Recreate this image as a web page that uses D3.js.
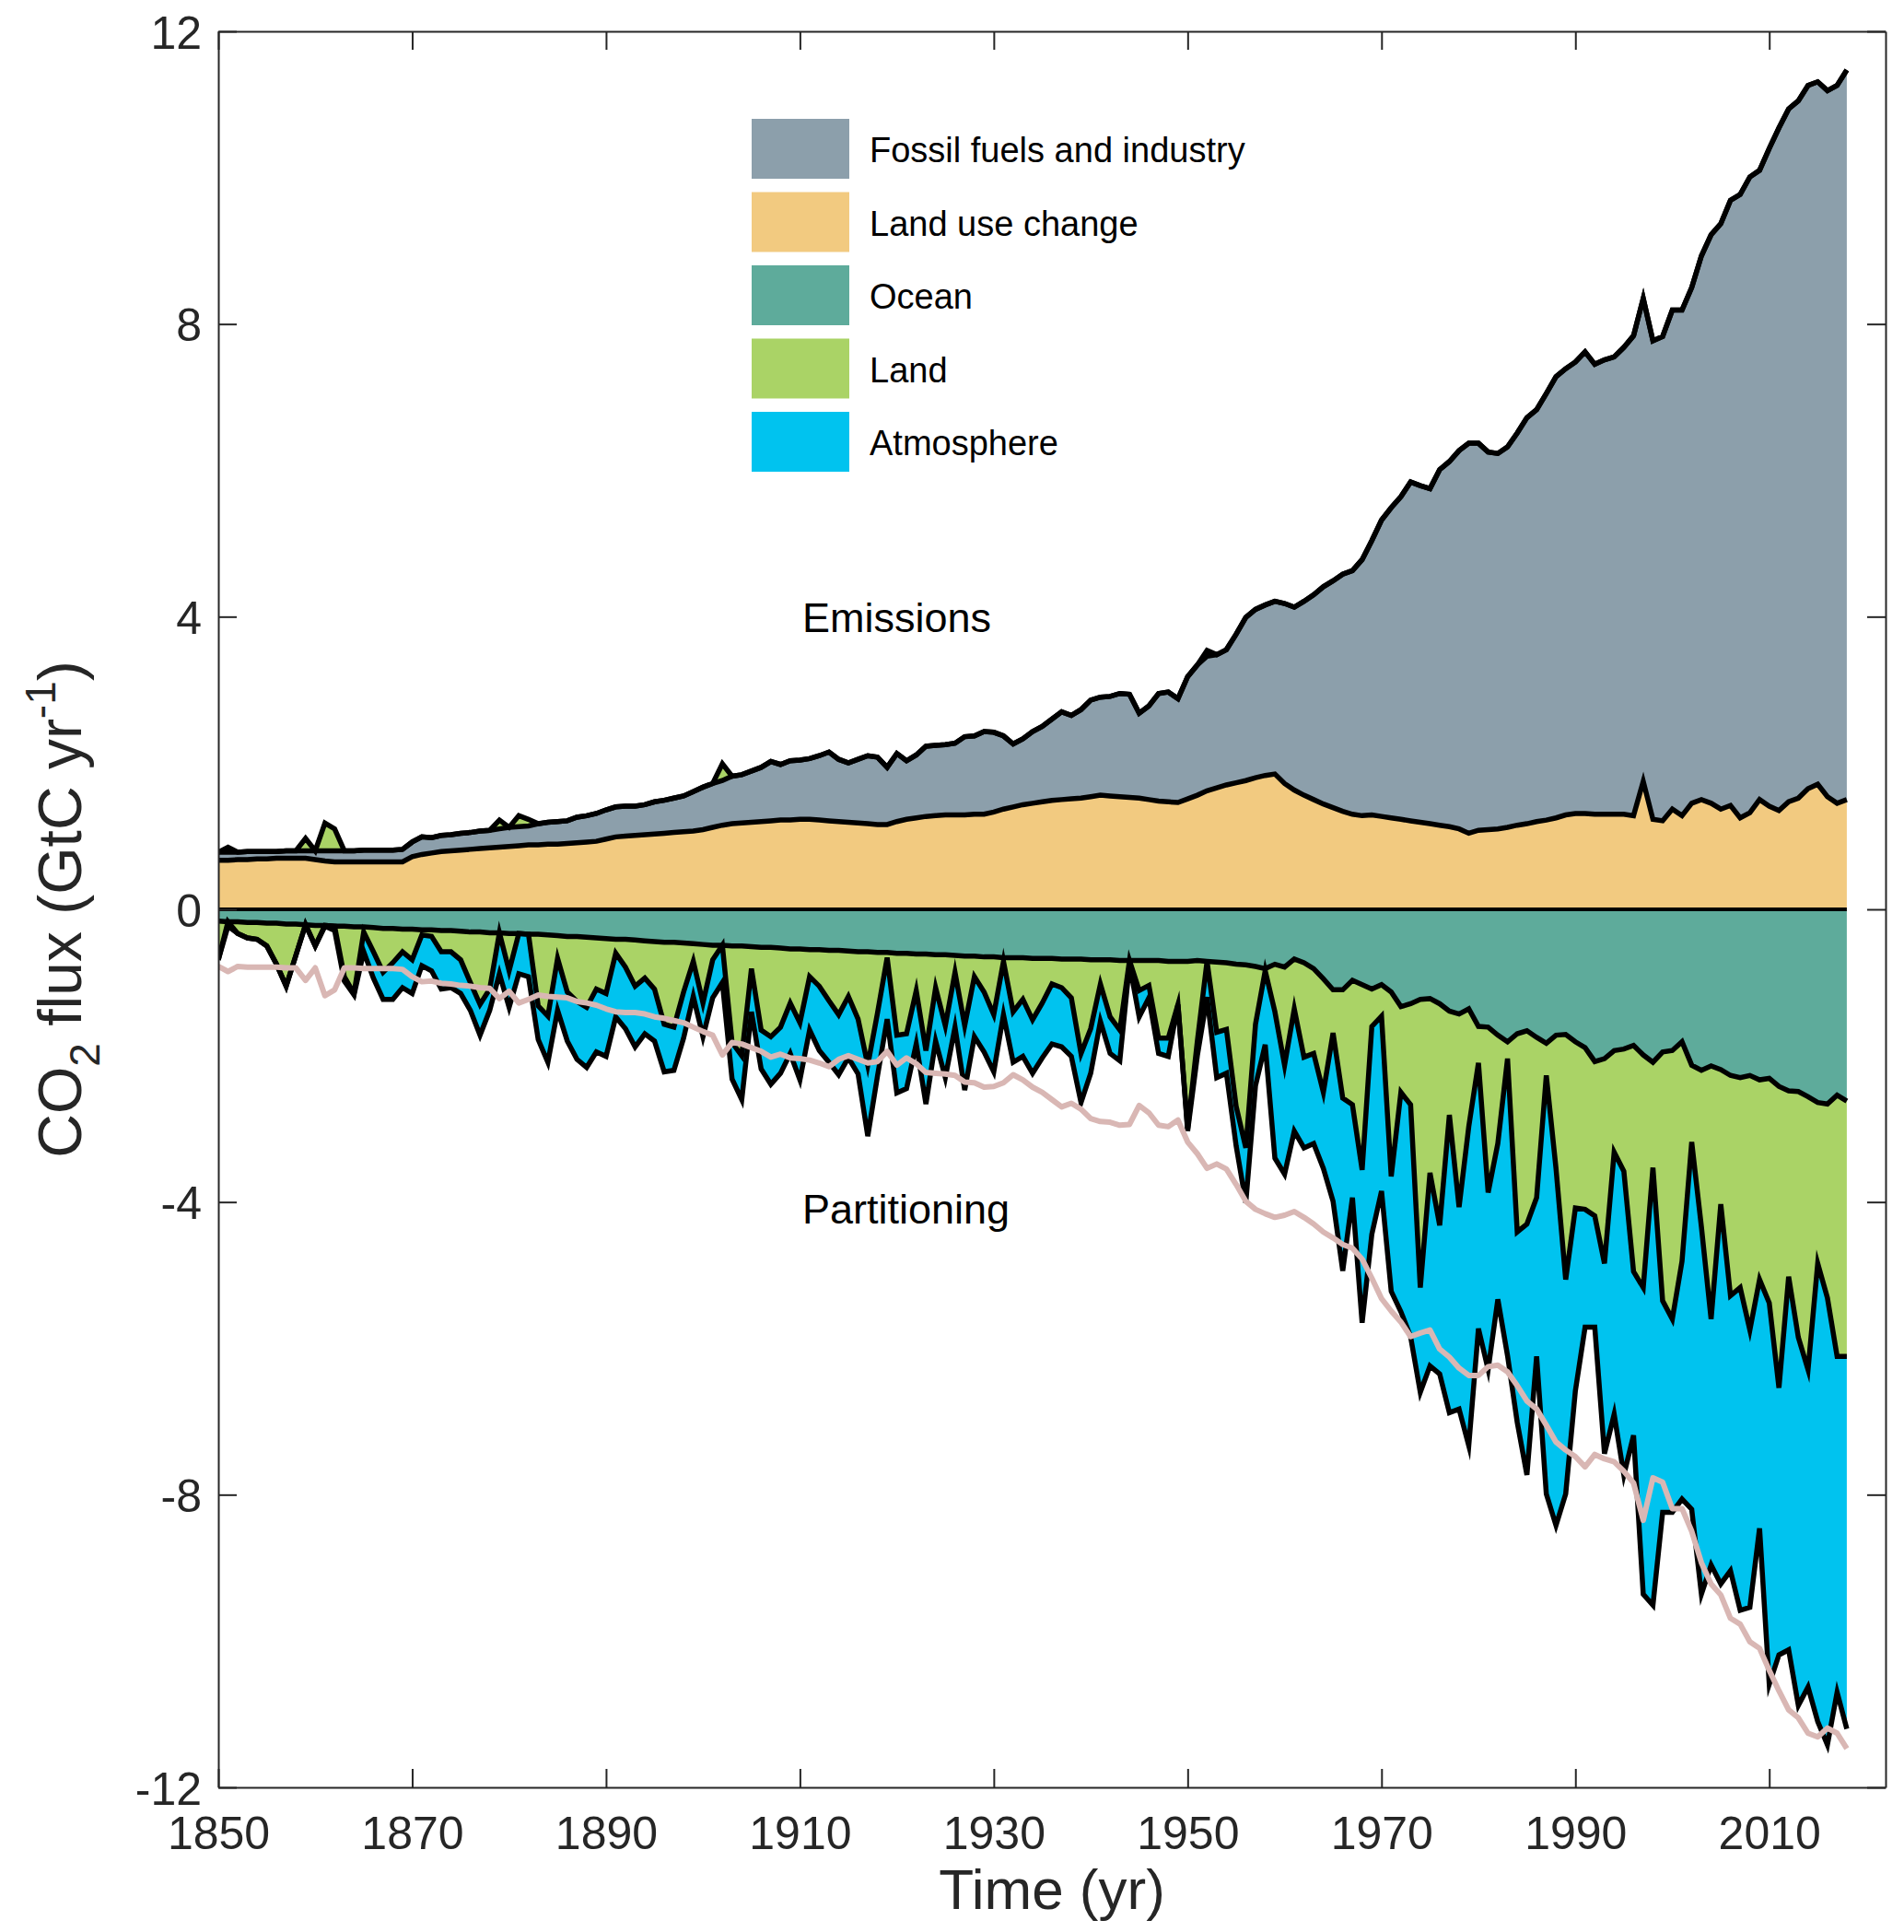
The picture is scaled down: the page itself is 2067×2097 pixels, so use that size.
<!DOCTYPE html>
<html>
<head>
<meta charset="utf-8">
<script src="https://cdn.jsdelivr.net/npm/d3@7"></script>
<style>
  body { margin: 0; background: #fff; }
  text { font-family: Arial, "Liberation Sans", Helvetica, sans-serif; }
</style>
</head>
<body>
<svg id="chart" width="2067" height="2097"></svg>
<script>
const years = d3.range(1850, 2019);

// GtC per year
const fossil = [
  .11,.11,.10,.11,.10,.10,.09,.10,.10,.10,
  .12,.14,.15,.15,.15,.16,.16,.16,.16,.17,
  .20,.24,.21,.22,.22,.23,.23,.24,.24,.25,
  .26,.26,.26,.29,.30,.31,.31,.35,.36,.38,
  .40,.41,.41,.40,.41,.44,.45,.47,.49,.54,
  .58,.60,.61,.65,.66,.70,.74,.81,.76,.81,
  .81,.83,.88,.94,.85,.81,.87,.93,.92,.78,
  .93,.80,.86,.96,.96,.96,.98,1.07,1.07,1.13,
  1.09,1.00,.86,.90,.98,1.03,1.11,1.20,1.14,1.21,
  1.32,1.34,1.36,1.41,1.41,1.16,1.28,1.47,1.50,1.42,
  1.67,1.78,1.84,1.82,1.85,2.03,2.23,2.30,2.33,2.36,
  2.46,2.50,2.65,2.80,2.97,3.10,3.24,3.33,3.50,3.75,
  4.05,4.24,4.41,4.63,4.60,4.58,4.86,4.99,5.17,5.33,
  5.29,5.16,5.13,5.20,5.36,5.55,5.63,5.83,6.03,6.10,
  6.17,6.31,6.15,6.21,6.25,6.38,6.56,6.60,6.54,6.62,
  6.82,6.91,7.05,7.43,7.77,8.00,8.27,8.52,8.69,8.60,
  8.99,9.33,9.47,9.53,9.61,9.60,9.65,9.81,9.97
];

const landUse = [
  .67,.67,.68,.68,.69,.69,.70,.70,.70,.70,
  .68,.66,.65,.65,.65,.65,.65,.65,.65,.65,
  .72,.75,.77,.79,.80,.81,.82,.83,.84,.85,
  .86,.87,.88,.88,.89,.89,.90,.91,.92,.93,
  .96,.99,1.00,1.01,1.02,1.03,1.04,1.05,1.06,1.07,
  1.09,1.12,1.15,1.17,1.18,1.19,1.20,1.21,1.22,1.22,
  1.23,1.23,1.22,1.21,1.20,1.19,1.18,1.17,1.16,1.16,
  1.20,1.23,1.25,1.27,1.28,1.29,1.29,1.29,1.30,1.30,
  1.33,1.37,1.40,1.43,1.45,1.47,1.49,1.50,1.51,1.52,
  1.54,1.56,1.55,1.54,1.53,1.52,1.50,1.48,1.47,1.46,
  1.51,1.56,1.62,1.66,1.70,1.73,1.76,1.80,1.83,1.85,
  1.72,1.63,1.56,1.50,1.44,1.39,1.34,1.30,1.28,1.29,
  1.27,1.25,1.23,1.21,1.19,1.17,1.15,1.13,1.10,1.04,
  1.08,1.09,1.10,1.12,1.15,1.17,1.20,1.22,1.25,1.29,
  1.31,1.31,1.30,1.30,1.30,1.30,1.28,1.75,1.23,1.21,
  1.37,1.28,1.45,1.50,1.45,1.37,1.42,1.25,1.32,1.50,
  1.41,1.35,1.47,1.52,1.65,1.71,1.54,1.45,1.50
];

// sinks as positive numbers
const ocean = [
  .16,.17,.17,.18,.18,.19,.19,.20,.20,.21,
  .22,.22,.23,.23,.24,.24,.25,.26,.26,.27,
  .27,.28,.28,.29,.29,.30,.31,.31,.32,.32,
  .33,.33,.34,.34,.35,.36,.37,.37,.38,.39,
  .40,.41,.41,.42,.43,.44,.45,.45,.46,.47,
  .48,.49,.49,.50,.50,.51,.52,.52,.53,.54,
  .54,.55,.55,.56,.56,.57,.58,.58,.59,.59,
  .60,.60,.61,.61,.62,.62,.63,.64,.64,.65,
  .65,.66,.66,.66,.67,.67,.67,.68,.68,.68,
  .69,.69,.69,.70,.70,.70,.70,.70,.71,.71,
  .71,.70,.71,.72,.73,.75,.76,.78,.81,.75,
  .79,.68,.73,.81,.95,1.10,1.10,.97,1.03,1.09,
  1.03,1.13,1.33,1.29,1.23,1.22,1.29,1.39,1.43,1.36,
  1.60,1.61,1.72,1.81,1.70,1.66,1.75,1.83,1.72,1.71,
  1.81,1.89,2.08,2.04,1.93,1.91,1.86,1.99,2.09,1.95,
  1.93,1.81,2.13,2.20,2.14,2.19,2.27,2.30,2.27,2.33,
  2.31,2.42,2.48,2.49,2.56,2.64,2.66,2.54,2.62
];

// negative = land acts as a source (drawn on top of the emissions)
const land = [
  .53,-.07,.16,.21,.23,.31,.56,.85,.43,-.17,
  .28,-.38,-.30,.69,.91,.07,.33,.60,.47,.31,
  .42,.07,.09,.29,.29,.39,.69,.99,.77,-.12,
  .51,-.15,-.09,.98,1.11,.31,.76,.89,.96,.70,
  .75,.19,.38,.63,.51,.65,1.12,1.16,.67,.24,
  .80,.20,-.23,1.32,1.50,.30,1.13,1.22,1.08,.74,
  1.01,.37,.50,.69,.88,.62,.92,1.55,.83,.07,
  1.12,1.10,.50,1.32,.45,.97,.23,.95,.28,.48,
  .79,.05,.74,.57,.84,.61,.35,.39,.53,1.29,
  .94,.33,.78,.95,0,.41,.34,1.06,1.05,.59,
  2.29,1.10,-.08,.96,.91,1.94,2.50,.79,.03,.65,
  1.34,.68,1.29,1.16,1.55,.59,1.48,1.70,2.53,.51,
  .43,2.52,1.17,1.38,3.94,2.38,3.03,1.42,2.64,1.61,
  .50,2.26,1.48,.23,2.71,2.64,2.19,.44,1.82,3.35,
  2.27,2.21,2.11,2.80,1.39,1.67,3.09,3.18,1.44,3.40,
  3.67,3.00,1.05,2.14,3.46,1.84,3.01,2.87,3.48,2.73,
  3.07,4.12,2.54,3.36,3.73,2.20,2.65,3.57,3.49
];

const atmosphere = [
  0,.06,0,0,0,0,0,0,0,0,
  0,.01,.06,.06,.02,.27,.36,.37,.50,.49,
  .46,.42,.47,.51,.49,.46,.38,.42,.29,.56,
  .50,.55,.58,.46,.63,.71,.67,.79,.82,.86,
  .86,.87,.84,.83,.76,.71,.65,.59,.63,.48,
  .46,.52,.51,.50,.60,.59,.53,.65,.63,.69,
  .78,.73,.88,.84,.82,.84,.75,.97,.86,.84,
  .79,.75,.73,.73,.73,.71,.75,.88,.82,.82,
  .78,.73,.69,.78,.73,.75,.82,.81,.80,.67,
  .61,.51,.50,.42,.05,.36,.17,.21,.25,0,
  .03,.20,.49,.62,.60,.54,.75,.84,1.01,2.00,
  1.49,1.67,1.24,1.23,1.04,2.30,2.36,1.27,2.09,2.84,
  2.39,1.57,3.00,3.17,1.43,2.64,2.03,4.07,2.76,4.36,
  3.63,2.42,2.13,4.06,2.60,3.43,2.17,5.72,4.88,2.93,
  2.50,1.61,1.52,2.60,3.58,4.15,2.24,4.19,5.98,2.89,
  2.64,3.25,5.02,5.02,3.36,5.19,3.76,4.41,3.79,3.40,
  5.21,3.65,5.10,5.03,4.34,6.26,6.11,4.59,5.09
];

const X_TICKS = d3.range(1850, 2011, 20);
const Y_TICKS = d3.range(-12, 13, 4);
const LEGEND = [
  ["Fossil fuels and industry", "#8c9fab"],
  ["Land use change", "#f2ca80"],
  ["Ocean", "#5eab9b"],
  ["Land", "#aad366"],
  ["Atmosphere", "#00c3ef"]
];
const PINK = "#d9b7b4";
const AXIS = "#262626";

const svg = d3.select("#chart");
const x = d3.scaleLinear().domain([1850, 2022]).range([237, 2047]);
const y = d3.scaleLinear().domain([-12, 12]).range([1940, 34]);

// stacked positions for each year
const rows = years.map((yr, i) => {
  const src = Math.max(0, -land[i]);
  const sink = Math.max(0, land[i]);
  const top = landUse[i] + fossil[i];
  const oc = -ocean[i];
  const g = oc - sink;
  return { yr, luc: landUse[i], top, srcTop: top + src, oc, g, b: g - atmosphere[i] };
});

svg.append("defs").append("clipPath").attr("id", "plot")
  .append("rect")
  .attr("x", x.range()[0]).attr("y", y.range()[1])
  .attr("width", x.range()[1] - x.range()[0])
  .attr("height", y.range()[0] - y.range()[1]);

const plot = svg.append("g").attr("clip-path", "url(#plot)");

const band = (lo, hi) => d3.area().x(d => x(d.yr)).y0(d => y(lo(d))).y1(d => y(hi(d)));
const line = f => d3.line().x(d => x(d.yr)).y(d => y(f(d)));

// fills
plot.append("path").datum(rows).attr("fill", LEGEND[1][1]).attr("d", band(d => 0, d => d.luc));
plot.append("path").datum(rows).attr("fill", LEGEND[0][1]).attr("d", band(d => d.luc, d => d.top));
plot.append("path").datum(rows).attr("fill", LEGEND[3][1]).attr("d", band(d => d.top, d => d.srcTop));
plot.append("path").datum(rows).attr("fill", LEGEND[2][1]).attr("d", band(d => 0, d => d.oc));
plot.append("path").datum(rows).attr("fill", LEGEND[3][1]).attr("d", band(d => d.oc, d => d.g));
plot.append("path").datum(rows).attr("fill", LEGEND[4][1]).attr("d", band(d => d.g, d => d.b));

// outlines
const edges = [d => d.srcTop, d => d.top, d => d.luc, d => d.oc, d => d.g, d => d.b];
edges.forEach(f => {
  plot.append("path").datum(rows)
    .attr("fill", "none").attr("stroke", "#000")
    .attr("stroke-width", 5.5).attr("stroke-linejoin", "miter").attr("stroke-miterlimit", 6)
    .attr("d", line(f));
});
plot.append("path").datum(rows)
  .attr("fill", "none").attr("stroke", "#000").attr("stroke-width", 4)
  .attr("d", line(d => 0));

// mirrored total emissions
plot.append("path").datum(rows)
  .attr("fill", "none").attr("stroke", PINK).attr("stroke-width", 6)
  .attr("stroke-linejoin", "round")
  .attr("d", line(d => -d.srcTop));

// axes, MATLAB style box with inward ticks
const styleAxis = g => {
  g.select(".domain").attr("stroke", AXIS).attr("stroke-width", 2);
  g.selectAll(".tick line").attr("stroke", AXIS).attr("stroke-width", 2);
  g.selectAll(".tick text").attr("fill", AXIS).style("font-size", "50px");
};

svg.append("g").attr("transform", `translate(0,${y.range()[0]})`)
  .call(d3.axisBottom(x).tickValues(X_TICKS).tickFormat(d => String(d))
    .tickSizeInner(-20).tickSizeOuter(0).tickPadding(0))
  .call(styleAxis)
  .call(g => g.selectAll(".tick text").attr("y", 67).attr("dy", null));

svg.append("g").attr("transform", `translate(0,${y.range()[1]})`)
  .call(d3.axisTop(x).tickValues(X_TICKS).tickFormat("")
    .tickSizeInner(-20).tickSizeOuter(0))
  .call(styleAxis);

svg.append("g").attr("transform", `translate(${x.range()[0]},0)`)
  .call(d3.axisLeft(y).tickValues(Y_TICKS).tickFormat(d => String(d))
    .tickSizeInner(-20).tickSizeOuter(0).tickPadding(18))
  .call(styleAxis)
  .call(g => g.selectAll(".tick text").attr("dy", "0.36em"));

svg.append("g").attr("transform", `translate(${x.range()[1]},0)`)
  .call(d3.axisRight(y).tickValues(Y_TICKS).tickFormat("")
    .tickSizeInner(-20).tickSizeOuter(0))
  .call(styleAxis);

// axis titles
svg.append("text")
  .attr("x", (x.range()[0] + x.range()[1]) / 2).attr("y", 2072)
  .attr("text-anchor", "middle").attr("fill", AXIS)
  .style("font-size", "62px")
  .text("Time (yr)");

const yTitle = svg.append("text")
  .attr("transform", `translate(88,${(y.range()[0] + y.range()[1]) / 2}) rotate(-90)`)
  .attr("text-anchor", "middle").attr("fill", AXIS)
  .style("font-size", "66px");
yTitle.append("tspan").text("CO");
yTitle.append("tspan").attr("dy", 20).style("font-size", "46px").text("2");
yTitle.append("tspan").attr("dy", -20).text(" flux (GtC yr");
yTitle.append("tspan").attr("dy", -28).style("font-size", "46px").text("-1");
yTitle.append("tspan").attr("dy", 28).text(")");

// section labels
svg.append("text").attr("x", 871).attr("y", 686).style("font-size", "45px").text("Emissions");
svg.append("text").attr("x", 871).attr("y", 1328).style("font-size", "45px").text("Partitioning");

// legend
const legend = svg.append("g").attr("transform", "translate(816,129)");
const item = legend.selectAll("g").data(LEGEND).enter().append("g")
  .attr("transform", (d, i) => `translate(0,${i * 79.5})`);
item.append("rect").attr("width", 106).attr("height", 65).attr("fill", d => d[1]);
item.append("text").attr("x", 128).attr("y", 47).style("font-size", "38px").text(d => d[0]);
</script>
</body>
</html>
